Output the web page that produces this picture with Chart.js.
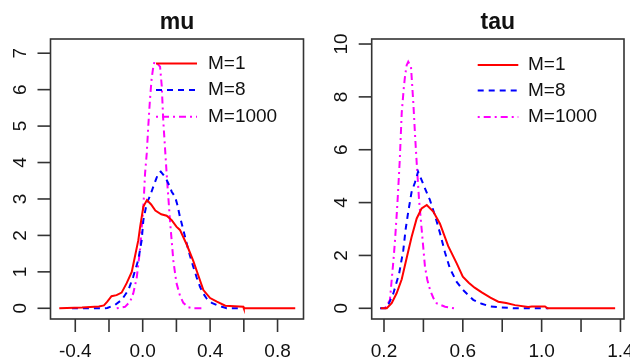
<!DOCTYPE html>
<html>
<head>
<meta charset="utf-8">
<script src="https://cdn.jsdelivr.net/npm/chart.js@4.4.1/dist/chart.umd.min.js"></script>
<style>
  body { margin: 0; background: #fff; width: 630px; height: 362px; overflow: hidden; }
  canvas { position: absolute; top: 0; }
  #cMu { left: 0; }
  #cTau { left: 315px; }
</style>
</head>
<body>
<canvas id="cMu" width="315" height="362"></canvas>
<canvas id="cTau" width="315" height="362"></canvas>
<script>
// density estimates (mu and tau), one curve per M

var seriesNames = ['M=1', 'M=8', 'M=1000'];

// mu panel
var muX1 = [-0.495, -0.36, -0.26, -0.23, -0.21, -0.185, -0.155, -0.125, -0.095, -0.065, -0.046, -0.026, -0.015, 0.004, 0.025, 0.05, 0.075, 0.11, 0.142, 0.172, 0.2, 0.221, 0.261, 0.3, 0.33, 0.36, 0.4, 0.44, 0.49, 0.597, 0.6, 0.75, 0.905];
var muY1 = [0, 0.02, 0.05, 0.08, 0.18, 0.33, 0.36, 0.43, 0.69, 1.0, 1.42, 1.87, 2.24, 2.79, 2.97, 2.85, 2.68, 2.58, 2.54, 2.42, 2.24, 2.15, 1.75, 1.3, 0.9, 0.5, 0.28, 0.18, 0.07, 0.04, 0, 0, 0];

var muX8 = [-0.42, -0.235, -0.21, -0.164, -0.125, -0.085, -0.056, -0.026, -0.006, 0.004, 0.024, 0.045, 0.063, 0.08, 0.093, 0.107, 0.125, 0.142, 0.16, 0.172, 0.192, 0.205, 0.221, 0.241, 0.261, 0.28, 0.3, 0.32, 0.34, 0.36, 0.379, 0.41, 0.44, 0.47, 0.498, 0.567];
var muY8 = [0, 0, 0.01, 0.09, 0.23, 0.5, 0.87, 1.33, 1.87, 2.42, 2.88, 3.1, 3.34, 3.55, 3.71, 3.75, 3.65, 3.52, 3.35, 3.2, 3.06, 2.85, 2.51, 2.15, 1.78, 1.45, 1.14, 0.85, 0.59, 0.4, 0.27, 0.15, 0.09, 0.04, 0, 0];

var muX1000 = [-0.154, -0.105, -0.075, -0.056, -0.036, -0.016, -0.006, 0.004, 0.014, 0.024, 0.033, 0.043, 0.053, 0.063, 0.07, 0.085, 0.103, 0.113, 0.122, 0.142, 0.162, 0.182, 0.2, 0.221, 0.241, 0.27, 0.3, 0.36];
var muY1000 = [0, 0.04, 0.18, 0.41, 0.82, 1.6, 2.2, 2.79, 3.7, 4.25, 4.99, 5.72, 6.3, 6.63, 6.77, 6.72, 6.63, 6.1, 5.15, 3.7, 2.4, 1.3, 0.7, 0.35, 0.15, 0.03, 0, 0];

// tau panel
var tauX1 = [0.183, 0.214, 0.239, 0.264, 0.29, 0.315, 0.34, 0.366, 0.391, 0.417, 0.45, 0.484, 0.526, 0.569, 0.6, 0.63, 0.66, 0.696, 0.74, 0.78, 0.82, 0.865, 0.932, 0.95, 1.017, 1.03, 1.373];
var tauY1 = [0, 0, 0.19, 0.57, 1.1, 1.9, 2.7, 3.4, 3.78, 3.91, 3.66, 3.2, 2.35, 1.7, 1.2, 0.97, 0.78, 0.6, 0.4, 0.25, 0.2, 0.12, 0.05, 0.07, 0.07, 0, 0];

var tauX8 = [0.18, 0.214, 0.247, 0.277, 0.298, 0.31, 0.323, 0.34, 0.357, 0.373, 0.391, 0.41, 0.433, 0.459, 0.484, 0.51, 0.535, 0.569, 0.6, 0.628, 0.653, 0.696, 0.74, 0.78, 0.865, 1.034];
var tauY8 = [0, 0, 0.55, 1.32, 2.2, 3.0, 3.65, 4.4, 4.76, 5.17, 4.85, 4.5, 4.1, 3.5, 2.85, 2.1, 1.5, 1.0, 0.7, 0.5, 0.32, 0.17, 0.07, 0.04, 0, 0];

var tauX1000 = [0.205, 0.23, 0.242, 0.25, 0.256, 0.265, 0.27, 0.28, 0.29, 0.3, 0.307, 0.315, 0.323, 0.337, 0.349, 0.358, 0.366, 0.378, 0.391, 0.408, 0.42, 0.434, 0.45, 0.467, 0.51, 0.557];
var tauY1000 = [0, 0.31, 1.32, 2.0, 2.58, 3.6, 4.22, 5.6, 7.4, 8.3, 8.8, 9.2, 9.33, 9.14, 7.75, 6.5, 5.5, 4.1, 3.0, 1.57, 1.07, 0.69, 0.4, 0.19, 0.06, 0];

// tick values and labels
var muXTicks = [-0.4, -0.2, 0, 0.2, 0.4, 0.6, 0.8];
var muXLabels = ['-0.4', '', '0.0', '', '0.4', '', '0.8'];
var muYTicks = [0, 1, 2, 3, 4, 5, 6, 7];
var tauXTicks = [0.2, 0.4, 0.6, 0.8, 1.0, 1.2, 1.4];
var tauXLabels = ['0.2', '', '0.6', '', '1.0', '', '1.4'];
var tauYTicks = [0, 2, 4, 6, 8, 10];

var colors = ['#ff0000', '#0000ff', '#ff00ff'];
var dashes = [[], [6, 5], [2, 4, 7, 4]];

function toPoints(xs, ys) {
  return xs.map(function (x, i) { return { x: x, y: ys[i] }; });
}

function makeDatasets(lists) {
  return lists.map(function (l, i) {
    return {
      label: seriesNames[i],
      data: toPoints(l[0], l[1]),
      showLine: true,
      borderColor: colors[i],
      borderWidth: 2,
      borderDash: dashes[i],
      pointRadius: 0,
      fill: false,
      tension: 0
    };
  });
}

// R style frame: box, outward ticks, rotated y labels, title and legend
var rAxes = {
  id: 'rAxes',
  afterDraw: function (chart, args, opts) {
    var ctx = chart.ctx, a = chart.chartArea;
    var sx = chart.scales.x, sy = chart.scales.y;
    ctx.save();
    ctx.setLineDash([]);
    ctx.strokeStyle = '#333';
    ctx.lineWidth = 1.6;
    ctx.strokeRect(a.left, a.top, a.right - a.left, a.bottom - a.top);

    ctx.fillStyle = '#111';
    ctx.font = '19px "Liberation Sans", Arial, sans-serif';
    ctx.textAlign = 'center';
    ctx.textBaseline = 'middle';
    opts.xTicks.forEach(function (v, i) {
      var px = sx.getPixelForValue(v);
      ctx.beginPath();
      ctx.moveTo(px, a.bottom);
      ctx.lineTo(px, a.bottom + 13);
      ctx.stroke();
      if (opts.xLabels[i]) ctx.fillText(opts.xLabels[i], px, a.bottom + 33);
    });
    opts.yTicks.forEach(function (v) {
      var py = sy.getPixelForValue(v);
      ctx.beginPath();
      ctx.moveTo(a.left, py);
      ctx.lineTo(a.left - 13, py);
      ctx.stroke();
      ctx.save();
      ctx.translate(a.left - 30, py);
      ctx.rotate(-Math.PI / 2);
      ctx.fillText(String(v), 0, 0);
      ctx.restore();
    });

    ctx.font = 'bold 23px "Liberation Sans", Arial, sans-serif';
    ctx.textBaseline = 'alphabetic';
    ctx.fillText(opts.title, (a.left + a.right) / 2, 29);

    // legend
    var lg = opts.legend;
    ctx.font = '19px "Liberation Sans", Arial, sans-serif';
    ctx.textAlign = 'left';
    ctx.textBaseline = 'middle';
    chart.data.datasets.forEach(function (ds, i) {
      var y = lg.rows[i];
      ctx.strokeStyle = ds.borderColor;
      ctx.lineWidth = ds.borderWidth;
      ctx.setLineDash(ds.borderDash);
      ctx.beginPath();
      ctx.moveTo(lg.x1, y);
      ctx.lineTo(lg.x2, y);
      ctx.stroke();
      ctx.fillText(ds.label, lg.tx, y);
    });
    ctx.restore();
  }
};

function makeChart(id, lists, xr, yr, pad, opts) {
  return new Chart(document.getElementById(id), {
    type: 'scatter',
    data: { datasets: makeDatasets(lists) },
    options: {
      responsive: false,
      animation: false,
      layout: { padding: pad },
      scales: {
        x: { type: 'linear', min: xr[0], max: xr[1], display: false },
        y: { type: 'linear', min: yr[0], max: yr[1], display: false }
      },
      plugins: {
        legend: { display: false },
        tooltip: { enabled: false },
        rAxes: opts
      }
    },
    plugins: [rAxes]
  });
}

makeChart('cMu',
  [[muX1, muY1], [muX8, muY8], [muX1000, muY1000]],
  [-0.547, 0.954], [-0.294, 7.39],
  { left: 50.5, right: 11.5, top: 39, bottom: 43 },
  { title: 'mu', xTicks: muXTicks, xLabels: muXLabels, yTicks: muYTicks,
    legend: { x1: 156, x2: 197, tx: 208, rows: [63.5, 90, 116.7] } });

makeChart('cTau',
  [[tauX1, tauY1], [tauX8, tauY8], [tauX1000, tauY1000]],
  [0.1376, 1.418], [-0.405, 10.19],
  { left: 56.7, right: 6, top: 39, bottom: 43 },
  { title: 'tau', xTicks: tauXTicks, xLabels: tauXLabels, yTicks: tauYTicks,
    legend: { x1: 162.7, x2: 203.3, tx: 213, rows: [65, 90.5, 117] } });
</script>
</body>
</html>
